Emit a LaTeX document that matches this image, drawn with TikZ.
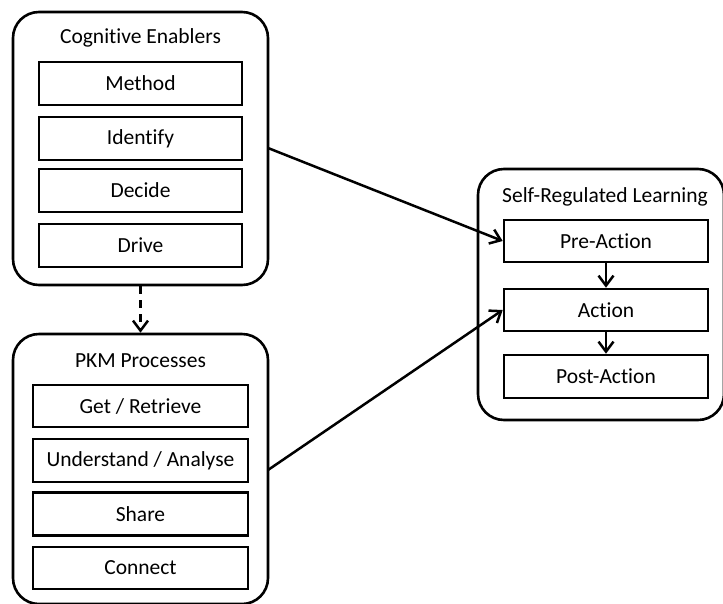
\documentclass[tikz,border=0pt]{standalone}
\usepackage{fontspec}
\setmainfont[Ligatures=NoCommon]{Carlito}
\usetikzlibrary{arrows.meta}
\begin{document}
\begin{tikzpicture}[x=1pt,y=-1pt,
  outerbox/.style={draw=black, line width=2.6pt, rounded corners=26pt, inner sep=0pt},
  itembox/.style={draw=black, line width=2.6pt, inner sep=0pt, font=\fontsize{21.5}{24}\selectfont},
  titletext/.style={font=\fontsize{21.5}{24}\selectfont, inner sep=0pt},
  conn/.style={line width=2.5pt, -{Straight Barb[length=10pt,width=15pt,line width=2.5pt]}}
]
\useasboundingbox (0,0) rectangle (723,603);
% Cognitive Enablers
\node[outerbox, minimum width=255pt, minimum height=273pt] (ce) at (140.5,148.5) {};
\node[titletext] (cet) at (140.5,38) {Cognitive Enablers};
\node[itembox, minimum width=203pt, minimum height=43pt] (m) at (140.5,83.5) {Method};
\node[itembox, minimum width=203pt, minimum height=43pt] (i) at (140.5,138.5) {Identify};
\node[itembox, minimum width=203pt, minimum height=43pt] (d) at (140.5,190.5) {Decide};
\node[itembox, minimum width=203pt, minimum height=43pt] (dr) at (140.5,245.5) {Drive};
% PKM Processes
\node[outerbox, minimum width=255pt, minimum height=270pt] (pkm) at (140.5,469) {};
\node[titletext] (pkmt) at (140.5,361) {PKM Processes};
\node[itembox, minimum width=215pt, minimum height=42pt] (g) at (140.5,406) {Get / Retrieve};
\node[itembox, minimum width=215pt, minimum height=43pt] (u) at (140.5,460.5) {Understand / Analyse};
\node[itembox, minimum width=215pt, minimum height=43pt] (s) at (140.5,514) {Share};
\node[itembox, minimum width=215pt, minimum height=42pt] (c) at (140.5,568) {Connect};
% Self-Regulated Learning
\node[outerbox, minimum width=246pt, minimum height=251pt] (srl) at (601,294.5) {};
\node[titletext] (srlt) at (605,197) {Self-Regulated Learning};
\node[itembox, minimum width=204pt, minimum height=42pt] (pre) at (606,241) {Pre-Action};
\node[itembox, minimum width=204pt, minimum height=42pt] (act) at (606,310) {Action};
\node[itembox, minimum width=204pt, minimum height=43pt] (post) at (606,376.5) {Post-Action};
% connectors
\coordinate (a1) at (268,148);
\coordinate (a2) at (268,470);
\draw[conn] (a1) -- (pre.west);
\draw[conn] (a2) -- (act.west);
\draw[conn] (pre.south) -- (act.north);
\draw[conn] (act.south) -- (post.north);
\draw[conn, dash pattern=on 8pt off 6pt] (ce.south) -- (pkm.north);
\end{tikzpicture}
\end{document}
